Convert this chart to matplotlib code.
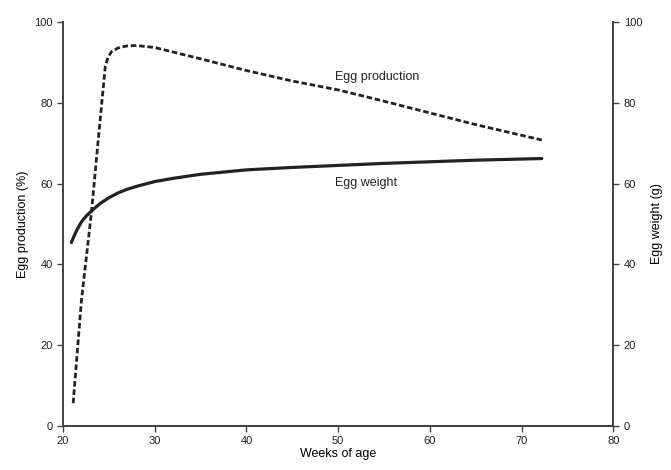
#!/usr/bin/env python3
# -*- coding: utf-8 -*-
"""Egg production and egg weight against weeks of age."""

from matplotlib import pyplot as plt

# values
prod_weeks = [21.1, 22.0, 23.1, 23.7, 24.6, 24.9, 25.3, 26.0, 27.0, 28.0,
              30.0, 35.0, 40.0, 45.0, 50.0, 55.0, 60.0, 65.0, 72.2]
prod_pct = [5.6, 31.0, 53.0, 67.6, 89.0, 91.3, 92.7, 93.6, 94.1, 94.2,
            93.7, 90.9, 88.0, 85.4, 83.2, 80.4, 77.5, 74.6, 70.8]

weight_weeks = [20.9, 21.2, 21.5, 22.0, 22.5, 23.0, 24.0, 25.0, 26.0, 27.0,
                28.0, 30.0, 32.0, 35.0, 40.0, 45.0, 50.0, 55.0, 60.0, 65.0,
                72.2]
weight_g = [45.4, 47.0, 48.5, 50.5, 51.9, 53.0, 55.0, 56.5, 57.7, 58.6,
            59.3, 60.5, 61.3, 62.3, 63.4, 64.0, 64.5, 65.0, 65.4, 65.8,
            66.2]

x_ticks = [20, 30, 40, 50, 60, 70, 80]
y_ticks = [0, 20, 40, 60, 80, 100]


def main():
    plt.rcParams['font.family'] = ['Liberation Sans', 'DejaVu Sans']
    fig = plt.figure(figsize=(6.71, 4.70), dpi=100)
    ax = fig.add_axes([0.094, 0.094, 0.82, 0.859])
    ax2 = ax.twinx()

    ink = '#222222'
    ax.plot(prod_weeks, prod_pct, color=ink, lw=2.0, linestyle=(0, (2, 1)))
    ax2.plot(weight_weeks, weight_g, color=ink, lw=2.3,
             solid_capstyle='round', solid_joinstyle='round')

    for a in (ax, ax2):
        a.set_xlim(20, 80)
        a.set_ylim(0, 100)
        a.set_yticks(y_ticks)
        a.spines['top'].set_visible(False)
        for s in a.spines.values():
            s.set_color('#444444')
            s.set_linewidth(1.3)
        a.tick_params(direction='out', length=4, width=1, colors='#444444',
                      labelcolor='#222222', labelsize=8)
    ax.set_xticks(x_ticks)

    ax.set_xlabel('Weeks of age', fontsize=9, labelpad=1)
    ax.set_ylabel('Egg production (%)', fontsize=9, labelpad=4)
    ax2.set_ylabel('Egg weight (g)', fontsize=9, rotation=90, labelpad=6)

    ax.text(49.6, 86.5, 'Egg production', fontsize=9, color=ink,
            va='center')
    ax.text(49.6, 60.2, 'Egg weight', fontsize=9, color=ink, va='center')

    fig.savefig('out.png', dpi=100)


if __name__ == "__main__":
    main()
